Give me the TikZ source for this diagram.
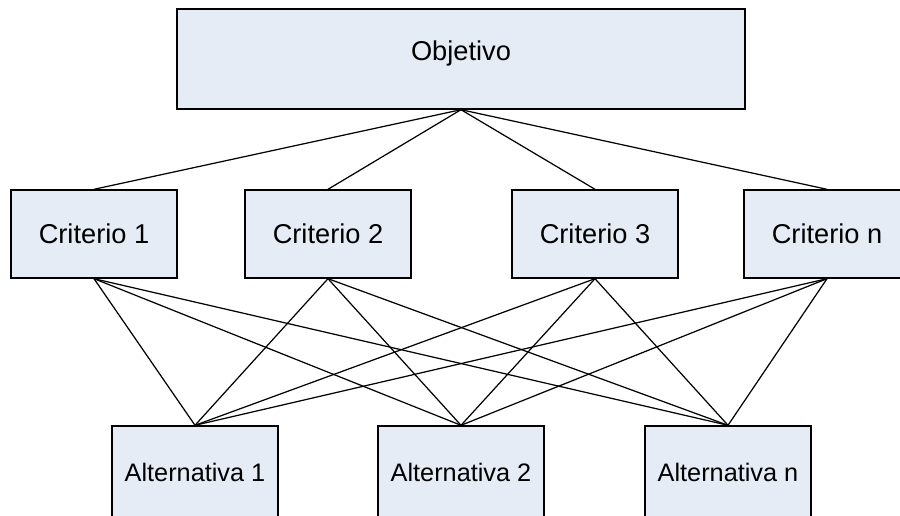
\documentclass[tikz,border=0pt]{standalone}
\usepackage{fontspec}
\setmainfont{Liberation Sans}
\usetikzlibrary{positioning}
\definecolor{boxfill}{RGB}{229,236,246}

\begin{document}
\begin{tikzpicture}[
  x=0.02cm, y=-0.02cm,
  box/.style={draw, line width=0.8pt, fill=boxfill, align=center, minimum width=3.32cm, minimum height=1.76cm, inner sep=0pt, font=\fontsize{15.5}{18}\selectfont},
  altbox/.style={box, minimum height=1.84cm, font=\fontsize{14.4}{17}\selectfont},
  line/.style={line width=0.7pt},
]
\useasboundingbox (0,0) rectangle (900,516);

% === Objective ===
\node[box, minimum width=11.36cm, minimum height=2cm] (obj) at (461,59) {};
\node[font=\fontsize{15.5}{18}\selectfont] (objtext) at (461,53) {Objetivo};

% === Criteria ===
\node[box] (c1) at (94,234) {Criterio 1};
\node[box] (c2) at (328,234) {Criterio 2};
\node[box] (c3) at (595,234) {Criterio 3};
\node[box] (cn) at (827,234) {Criterio n};

% === Alternatives ===
\node[altbox] (a1) at (195,472) {Alternativa 1};
\node[altbox] (a2) at (461,472) {Alternativa 2};
\node[altbox] (an) at (728,472) {Alternativa n};

% objective -> criteria
\draw[line] (obj.south) -- (c1.north);
\draw[line] (obj.south) -- (c2.north);
\draw[line] (obj.south) -- (c3.north);
\draw[line] (obj.south) -- (cn.north);

% criteria -> alternatives
\draw[line] (c1.south) -- (a1.north);
\draw[line] (c1.south) -- (a2.north);
\draw[line] (c1.south) -- (an.north);
\draw[line] (c2.south) -- (a1.north);
\draw[line] (c2.south) -- (a2.north);
\draw[line] (c2.south) -- (an.north);
\draw[line] (c3.south) -- (a1.north);
\draw[line] (c3.south) -- (a2.north);
\draw[line] (c3.south) -- (an.north);
\draw[line] (cn.south) -- (a1.north);
\draw[line] (cn.south) -- (a2.north);
\draw[line] (cn.south) -- (an.north);

\end{tikzpicture}
\end{document}
